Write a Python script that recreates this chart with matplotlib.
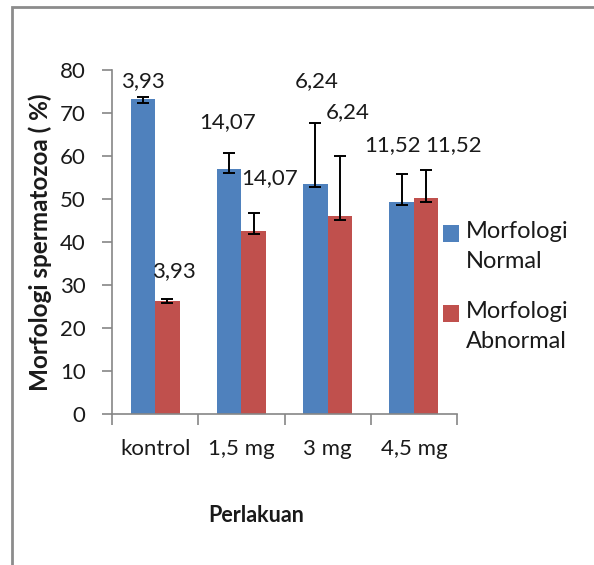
import numpy as np
import matplotlib
matplotlib.use("Agg")
import matplotlib.pyplot as plt
from matplotlib.patches import Rectangle

plt.rcParams['font.family'] = ['Lato', 'DejaVu Sans']

categories = ["kontrol", "1,5 mg", "3 mg", "4,5 mg"]
series_names = ["Morfologi\nNormal", "Morfologi\nAbnormal"]
normal = [73.3, 56.9, 53.5, 49.3]
abnormal = [26.3, 42.6, 46.0, 50.3]
# asymmetric error bars (lower, upper)
normal_err_lo = [1.0, 0.9, 0.6, 0.8]
normal_err_hi = [0.4, 3.9, 14.2, 6.4]
abnormal_err_lo = [0.4, 0.7, 0.9, 0.9]
abnormal_err_hi = [0.4, 4.1, 14.0, 6.4]
normal_labels = ["3,93", "14,07", "6,24", "11,52"]
abnormal_labels = ["3,93", "14,07", "6,24", "11,52"]

blue = "#4F81BD"
red = "#C0504D"
axis_gray = "#868686"
text_col = "#1a1a1a"

fig = plt.figure(figsize=(5.94, 5.65), dpi=100)
fig.patch.set_facecolor("white")

# chart area frame (only left and top visible in the reference)
fig.add_artist(Rectangle((12 / 594, -0.05), 1.1, 1 - 7 / 565 + 0.05,
                         transform=fig.transFigure, fill=False,
                         edgecolor="#8c8c8c", linewidth=2.0))

ax = fig.add_axes([112 / 594, 1 - 414 / 565, 345 / 594, 344 / 565])

x = np.arange(len(categories))
w = 0.285
ax.bar(x - w / 2, normal, w, color=blue, zorder=2)
ax.bar(x + w / 2, abnormal, w, color=red, zorder=2)
ax.errorbar(x - w / 2, normal, yerr=[normal_err_lo, normal_err_hi], fmt="none",
            ecolor="black", elinewidth=1.4, capsize=4.5, capthick=1.4, zorder=3)
ax.errorbar(x + w / 2, abnormal, yerr=[abnormal_err_lo, abnormal_err_hi], fmt="none",
            ecolor="black", elinewidth=1.4, capsize=4.5, capthick=1.4, zorder=3)

# data labels, placed where the reference has them
normal_lab_dx = [-0.145, -0.155, -0.13, -0.25]
normal_lab_y = [77.4, 68.0, 77.5, 62.6]
abnormal_lab_dx = [0.22, 0.33, 0.23, 0.46]
abnormal_lab_y = [33.3, 54.9, 70.3, 62.6]
for i in range(len(categories)):
    ax.text(x[i] + normal_lab_dx[i], normal_lab_y[i], normal_labels[i],
            ha="center", va="center", fontsize=16, color=text_col, zorder=4)
    ax.text(x[i] + abnormal_lab_dx[i], abnormal_lab_y[i], abnormal_labels[i],
            ha="center", va="center", fontsize=16, color=text_col, zorder=4)

ax.set_xlim(-0.5, len(categories) - 0.5)
ax.set_ylim(0, 80)
ax.set_yticks(np.arange(0, 81, 10))
ax.set_xticks(x)
ax.set_xticklabels(categories)
ax.set_xticks(np.arange(-0.5, len(categories)), minor=True)
ax.tick_params(axis="x", which="major", length=0, labelsize=16, pad=18, colors=text_col)
ax.tick_params(axis="x", which="minor", length=8, width=1.2, color=axis_gray)
ax.tick_params(axis="y", length=7, width=1.2, color=axis_gray, labelsize=16,
               labelcolor=text_col, pad=12)

for side in ("top", "right"):
    ax.spines[side].set_visible(False)
for side in ("left", "bottom"):
    ax.spines[side].set_color(axis_gray)
    ax.spines[side].set_linewidth(1.2)

ax.set_ylabel("Morfologi spermatozoa ( %)", fontsize=17.5, fontweight="bold",
              color=text_col)
ax.yaxis.set_label_coords(-0.175, 0.5)
fig.text(256 / 594, 1 - 515 / 565, "Perlakuan", ha="center", va="center",
         fontsize=15.5, fontweight="bold", color=text_col)

# legend drawn by hand: square aligned with the first text line
legend_colors = [blue, red]
legend_top = [225, 305]
for name, col, top in zip(series_names, legend_colors, legend_top):
    fig.add_artist(Rectangle((443 / 594, 1 - (top + 17) / 565), 16 / 594, 17 / 565,
                             transform=fig.transFigure, facecolor=col,
                             edgecolor="none"))
    fig.text(466 / 594, 1 - (top - 4) / 565, name, ha="left", va="top",
             fontsize=17, linespacing=1.55, color=text_col)

fig.savefig("out.png", dpi=100, facecolor="white")
